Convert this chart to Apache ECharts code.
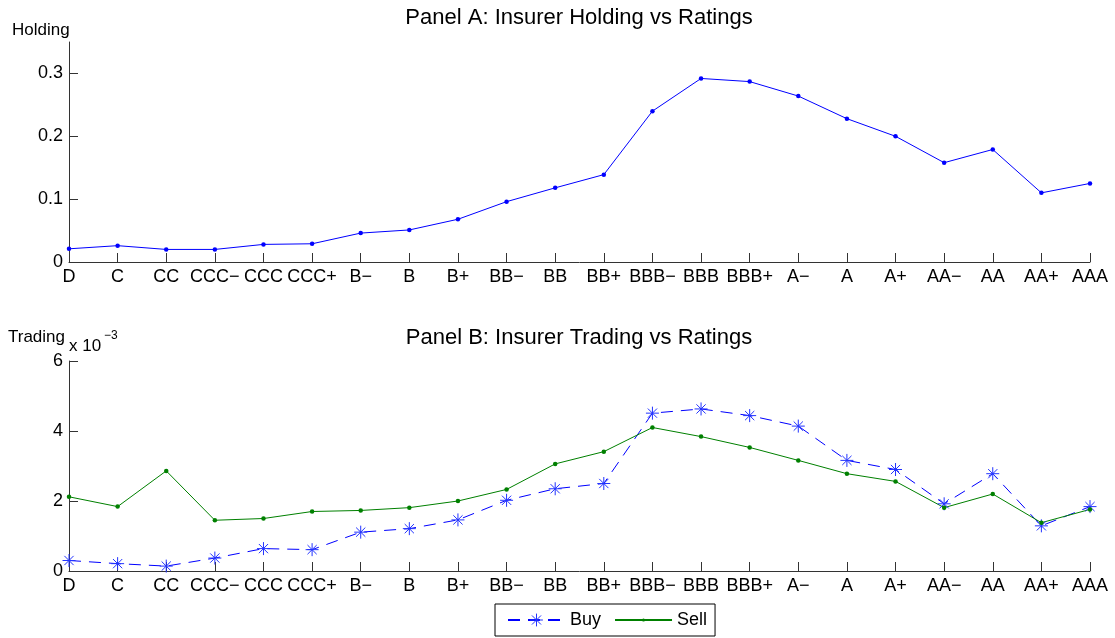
<!DOCTYPE html>
<html><head><meta charset="utf-8">
<script src="https://cdn.jsdelivr.net/npm/echarts@6/dist/echarts.min.js"></script>
<style>html,body{margin:0;padding:0;background:#fff}#c{width:1115px;height:638px}</style>
</head><body><div id="c"></div>
<script>
const ratings = ['D','C','CC','CCC−','CCC','CCC+','B−','B','B+','BB−','BB','BB+','BBB−','BBB','BBB+','A−','A','A+','AA−','AA','AA+','AAA'];
const holding = [0.021,0.026,0.020,0.020,0.028,0.029,0.046,0.051,0.068,0.096,0.118,0.139,0.240,0.292,0.287,0.264,0.228,0.200,0.158,0.179,0.110,0.125];
// trading values in units of 10^-3
const buyE3  = [0.30,0.21,0.14,0.37,0.64,0.61,1.11,1.21,1.46,2.02,2.35,2.50,4.51,4.63,4.44,4.14,3.16,2.90,1.92,2.78,1.29,1.84];
const sellE3 = [2.12,1.84,2.86,1.45,1.50,1.70,1.73,1.81,2.00,2.33,3.06,3.41,4.10,3.84,3.53,3.16,2.78,2.56,1.81,2.20,1.38,1.76];
const holdingTicks = [0, 0.1, 0.2, 0.3];
const tradingTicks = [0, 2, 4, 6];

const FONT = '"Liberation Sans", Arial, Helvetica, sans-serif';
const AX = '#333';
const starPath = 'path://M0,-10L0,10M-10,0L10,0M-7.1,-7.1L7.1,7.1M-7.1,7.1L7.1,-7.1';
const dotPath = 'path://M-4,-4M4,4M-1,0A1,1,0,1,0,1,0A1,1,0,1,0,-1,0Z';

function xAxisCfg(gi) {
  return {
    type: 'category', gridIndex: gi, data: ratings, boundaryGap: false,
    axisLine: { lineStyle: { color: AX, width: 1 } },
    axisTick: { inside: true, length: 9, alignWithLabel: true, interval: 0, lineStyle: { color: AX } },
    axisLabel: { interval: 0, margin: 6, color: '#000', fontSize: 18, fontFamily: FONT },
    splitLine: { show: false }
  };
}
function yAxisCfg(gi, max, interval, ticks) {
  return {
    type: 'value', gridIndex: gi, min: 0, max: max, interval: interval,
    axisLine: { show: true, lineStyle: { color: AX, width: 1 } },
    axisTick: { show: true, inside: true, length: 9, lineStyle: { color: AX }, customValues: ticks },
    axisLabel: { margin: 6, color: '#000', fontSize: 18, fontFamily: FONT, customValues: ticks },
    splitLine: { show: false }
  };
}

const chart = echarts.init(document.getElementById('c'), null, { renderer: 'canvas' });
chart.setOption({
  backgroundColor: '#fff',
  animation: false,
  grid: [
    { left: 69, right: 25, top: 42, height: 220 },
    { left: 69, right: 25, top: 361, height: 210 }
  ],
  xAxis: [xAxisCfg(0), xAxisCfg(1)],
  yAxis: [yAxisCfg(0, 0.35, 0.1, holdingTicks), yAxisCfg(1, 6, 2, tradingTicks)],
  legend: {
    data: ['Buy', 'Sell'], left: 495, top: 604,
    orient: 'horizontal',
    borderColor: '#000', borderWidth: 1, borderRadius: 0,
    padding: [7, 8, 7, 12], itemGap: 13,
    itemWidth: 57, itemHeight: 16,
    itemStyle: { borderWidth: 1 },
    textStyle: { fontSize: 18, color: '#000', fontFamily: FONT }
  },
  graphic: [
    { type: 'text', x: 579, y: 18, style: { text: 'Panel A: Insurer Holding vs Ratings', font: '22px ' + FONT, fill: '#000', textAlign: 'center', textVerticalAlign: 'middle' } },
    { type: 'text', x: 579, y: 338, style: { text: 'Panel B: Insurer Trading vs Ratings', font: '22px ' + FONT, fill: '#000', textAlign: 'center', textVerticalAlign: 'middle' } },
    { type: 'text', x: 12, y: 30, style: { text: 'Holding', font: '17px ' + FONT, fill: '#000', textAlign: 'left', textVerticalAlign: 'middle' } },
    { type: 'text', x: 8, y: 337, style: { text: 'Trading', font: '17px ' + FONT, fill: '#000', textAlign: 'left', textVerticalAlign: 'middle' } },
    { type: 'text', x: 69, y: 346, style: { text: 'x 10', font: '17px ' + FONT, fill: '#000', textAlign: 'left', textVerticalAlign: 'middle' } },
    { type: 'text', x: 104, y: 336, style: { text: '−3', font: '12px ' + FONT, fill: '#000', textAlign: 'left', textVerticalAlign: 'middle' } }
  ],
  series: [
    {
      name: 'Holding', type: 'line', xAxisIndex: 0, yAxisIndex: 0, data: holding,
      symbol: 'circle', symbolSize: 4.5, showAllSymbol: true,
      lineStyle: { color: '#0000ff', width: 1 },
      itemStyle: { color: '#0000ff' }
    },
    {
      name: 'Buy', type: 'line', xAxisIndex: 1, yAxisIndex: 1, data: buyE3,
      symbol: starPath, symbolSize: 13, showAllSymbol: true,
      lineStyle: { color: '#0000ff', width: 1, type: [12, 8] },
      itemStyle: { color: '#2233ff', borderColor: '#2233ff', borderWidth: 1 }
    },
    {
      name: 'Sell', type: 'line', xAxisIndex: 1, yAxisIndex: 1, data: sellE3,
      symbol: dotPath, symbolSize: 18, showAllSymbol: true,
      lineStyle: { color: '#008000', width: 1 },
      itemStyle: { color: '#008000' }
    }
  ]
});
</script>
</body></html>
